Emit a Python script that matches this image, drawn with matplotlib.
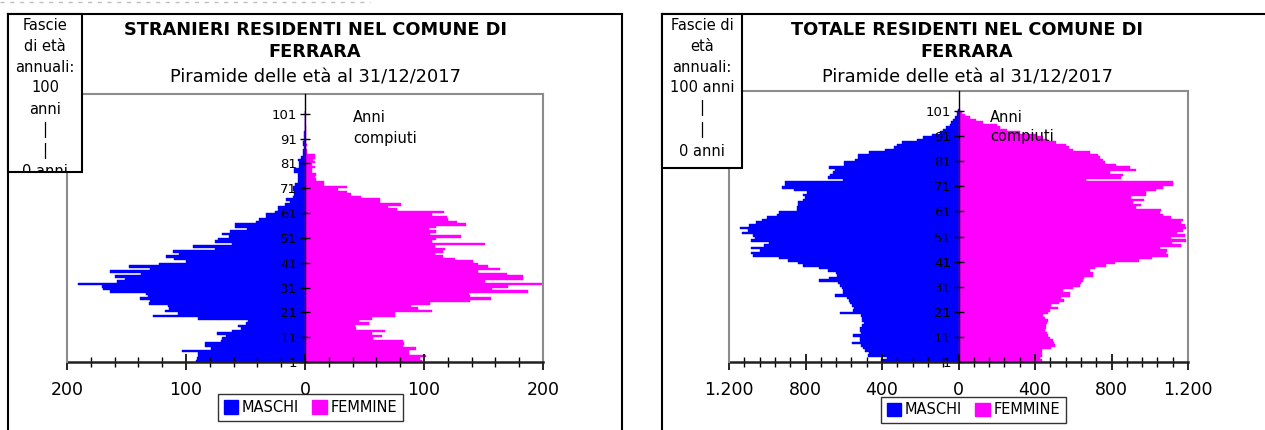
import numpy as np
import matplotlib
matplotlib.use("Agg")
import matplotlib.pyplot as plt
from matplotlib.patches import Rectangle, Patch
from matplotlib.lines import Line2D
from matplotlib.ticker import MultipleLocator, FuncFormatter

# -----------------------------
# Data, ages 0..100
# -----------------------------
ages = list(range(101))
age_ticks = list(range(0, 101, 10))
age_tick_labels = ["1", "11", "21", "31", "41", "51", "61", "71", "81", "91", "101"]

stranieri_maschi = [
    92, 91, 90, 90, 103, 79, 84, 84, 71, 70,
    66, 74, 61, 54, 56, 50, 48, 90, 128, 107,
    118, 114, 115, 131, 130, 139, 132, 134, 164, 170,
    171, 191, 158, 151, 160, 138, 164, 130, 148, 123,
    100, 110, 117, 106, 111, 76, 94, 61, 76, 73,
    64, 70, 63, 49, 59, 59, 41, 39, 33, 33,
    25, 23, 23, 17, 13, 16, 10, 9, 9, 10,
    10, 8, 6, 6, 6, 6, 9, 9, 5, 5,
    5, 6, 3, 2, 2, 2, 1, 2, 2, 1,
    1, 1, 1, 0, 0, 0, 0, 0, 0, 0,
    0,
]
stranieri_femmine = [
    98, 97, 102, 87, 87, 93, 82, 83, 82, 57,
    65, 56, 67, 43, 42, 54, 45, 56, 76, 76,
    107, 95, 89, 105, 139, 156, 139, 138, 187, 157,
    171, 204, 151, 183, 183, 170, 145, 164, 154, 145,
    141, 126, 116, 109, 116, 118, 109, 151, 107, 110,
    131, 105, 110, 104, 110, 135, 128, 120, 119, 107,
    117, 77, 70, 81, 63, 63, 47, 39, 35, 28,
    35, 16, 16, 9, 8, 9, 6, 6, 8, 6,
    8, 7, 8, 8, 2, 2, 1, 2, 1, 1,
    1, 1, 1, 1, 1, 0, 0, 0, 0, 0,
    0,
]
totale_maschi = [
    405, 376, 472, 467, 490, 498, 510, 556, 516, 516,
    550, 512, 516, 516, 507, 495, 502, 507, 510, 620,
    550, 547, 559, 568, 571, 585, 646, 603, 606, 610,
    617, 629, 732, 676, 634, 638, 681, 730, 812, 838,
    890, 937, 1076, 1087, 1038, 1087, 1017, 989, 1085, 1063,
    1073, 1132, 1099, 1143, 1094, 1060, 1030, 1003, 951, 940,
    847, 847, 841, 838, 812, 803, 812, 791, 860, 925,
    907, 907, 603, 681, 672, 655, 646, 676, 599, 599,
    542, 524, 524, 467, 385, 338, 324, 294, 216, 185,
    136, 98, 80, 63, 45, 37, 28, 19, 10, 7,
    4,
]
totale_femmine = [
    439, 425, 439, 439, 439, 483, 503, 498, 495, 481,
    469, 465, 451, 460, 460, 465, 469, 451, 442, 469,
    477, 521, 486, 524, 550, 538, 582, 585, 547, 599,
    634, 643, 651, 655, 704, 704, 686, 712, 773, 820,
    944, 1014, 1096, 1087, 1092, 1056, 1165, 1118, 1188, 1113,
    1183, 1143, 1174, 1188, 1183, 1165, 1174, 1113, 1070, 1052,
    1061, 930, 956, 913, 969, 904, 979, 982, 1035, 1070,
    1122, 1122, 665, 852, 861, 791, 930, 899, 826, 765,
    753, 740, 730, 686, 600, 580, 560, 510, 465, 440,
    408, 321, 251, 216, 199, 129, 94, 59, 33, 16,
    8,
]

BLUE = "#0000FF"
PINK = "#FF00FF"
GRAY = "#8c8c8c"

W, H = 1265, 430


def fx(x):
    return x / W


def fy(y):
    return 1 - y / H


fig = plt.figure(figsize=(W / 100, H / 100), dpi=100)
fig.patch.set_facecolor("white")


def thousands(v, pos):
    s = f"{abs(int(round(v))):,}"
    return s.replace(",", ".")


def pyramid(box, maschi, femmine, xmax, major, minor):
    x0, y0, x1, y1 = box
    ax = fig.add_axes([fx(x0), fy(y1), fx(x1) - fx(x0), fy(y0) - fy(y1)])
    y = np.array(ages) + 0.5
    ax.barh(y, -np.array(maschi), height=1.0, color=BLUE,
            edgecolor=BLUE, linewidth=0.3)
    ax.barh(y, femmine, height=1.0, color=PINK,
            edgecolor=PINK, linewidth=0.3)
    ax.set_xlim(-xmax, xmax)
    ax.set_ylim(0, 108)

    # vertical axis at zero
    ax.spines["left"].set_position(("data", 0))
    ax.spines["left"].set_color("black")
    ax.spines["left"].set_linewidth(1.0)
    ax.spines["left"].set_zorder(4)
    for s in ["top", "right"]:
        ax.spines[s].set_color(GRAY)
        ax.spines[s].set_linewidth(1.5)
    ax.spines["bottom"].set_color("#202020")
    ax.spines["bottom"].set_linewidth(1.8)
    ax.add_line(Line2D([-xmax, -xmax], [0, 108], color=GRAY, lw=1.5,
                       clip_on=False, zorder=3))

    ax.set_yticks(age_ticks)
    ax.set_yticklabels(age_tick_labels)
    ax.tick_params(axis="y", direction="inout", length=7, width=1.0,
                   labelsize=9.5, pad=2, colors="black")

    ax.xaxis.set_major_locator(MultipleLocator(major))
    ax.xaxis.set_minor_locator(MultipleLocator(minor))
    ax.xaxis.set_major_formatter(FuncFormatter(thousands))
    ax.tick_params(axis="x", which="major", direction="inout", length=11,
                   width=1.2, labelsize=12.5, pad=8)
    ax.tick_params(axis="x", which="minor", direction="inout", length=7,
                   width=1.0)
    return ax


def text_box(x0, y0, x1, y1, lines, ys):
    rect = Rectangle((fx(x0), fy(y1)), fx(x1) - fx(x0), fy(y0) - fy(y1),
                     transform=fig.transFigure, facecolor="white",
                     edgecolor="black", linewidth=1.5, zorder=5)
    fig.add_artist(rect)
    for line, yy in zip(lines, ys):
        t = fig.text(fx((x0 + x1) / 2), fy(yy), line, ha="center",
                     va="center", fontsize=10.5, zorder=6)
        t.set_clip_path(rect)


def frame(x0, y0, x1):
    kw = dict(transform=fig.transFigure, color="black", lw=1.5)
    fig.add_artist(Line2D([fx(x0), fx(x0)], [fy(y0), fy(H + 10)], **kw))
    fig.add_artist(Line2D([fx(x0), fx(x1)], [fy(y0), fy(y0)], **kw))
    if x1 < W:
        fig.add_artist(Line2D([fx(x1), fx(x1)], [fy(y0), fy(H + 10)], **kw))


def titles(cx, line1):
    fig.text(fx(cx), fy(30), line1, ha="center", va="center",
             fontsize=12.8, fontweight="bold")
    fig.text(fx(cx), fy(52), "FERRARA", ha="center", va="center",
             fontsize=12.8, fontweight="bold")
    fig.text(fx(cx), fy(77), "Piramide delle età al 31/12/2017", ha="center",
             va="center", fontsize=12.8)


def legend(cx, cy):
    leg = fig.legend([Patch(color=BLUE), Patch(color=PINK)], ["MASCHI", "FEMMINE"],
                     loc="center", bbox_to_anchor=(fx(cx), fy(cy)), ncol=2,
                     fontsize=10.5, frameon=True, fancybox=False,
                     edgecolor="black", handlelength=1.0, handleheight=1.0,
                     handletextpad=0.25, columnspacing=0.9, borderpad=0.4,
                     borderaxespad=0)
    leg.get_frame().set_linewidth(1.0)


# faint clipped line of text above the charts
fig.add_artist(Line2D([0, fx(370)], [fy(1.5), fy(1.5)], transform=fig.transFigure,
                      color="#c0c0c0", lw=1.0, ls=(0, (3, 4))))

# -----------------------------
# Left chart: stranieri
# -----------------------------
frame(8, 14, 622)
pyramid((67, 94, 543, 362), stranieri_maschi, stranieri_femmine, 200, 100, 20)
titles(315, "STRANIERI RESIDENTI NEL COMUNE DI")
fig.text(fx(353), fy(118), "Anni", ha="left", va="center", fontsize=10.5)
fig.text(fx(353), fy(139), "compiuti", ha="left", va="center", fontsize=10.5)
text_box(8, 14, 82, 172,
         ["Fascie", "di età", "annuali:", "100", "anni", "|", "|", "0 anni"],
         [25, 46.5, 67.5, 88, 109, 130, 151, 172])
legend(310.5, 407.5)

# -----------------------------
# Right chart: totale
# -----------------------------
frame(662, 14, W + 20)
pyramid((729, 91, 1188, 362), totale_maschi, totale_femmine, 1200, 400, 80)
titles(967, "TOTALE RESIDENTI NEL COMUNE DI")
fig.text(fx(990), fy(117), "Anni", ha="left", va="center", fontsize=10.5)
fig.text(fx(990), fy(137), "compiuti", ha="left", va="center", fontsize=10.5)
text_box(662, 14, 742, 168,
         ["Fascie di", "età", "annuali:", "100 anni", "|", "|", "0 anni"],
         [25, 46.5, 67.5, 88, 108, 130, 152])
legend(973.5, 410)

fig.savefig("out.png", dpi=100, facecolor="white")
